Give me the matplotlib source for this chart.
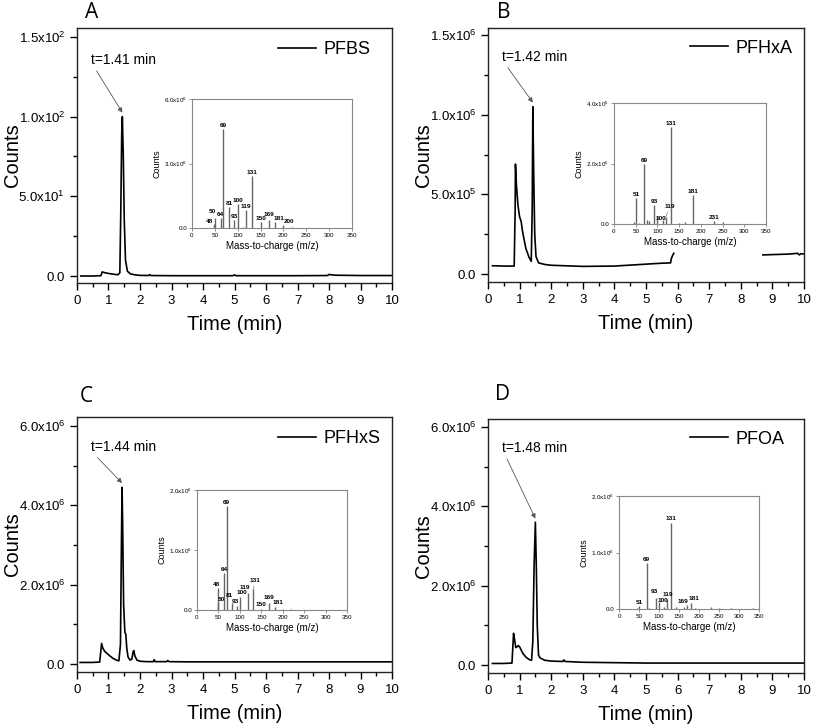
import matplotlib
matplotlib.use("Agg")
import matplotlib.pyplot as plt
import numpy as np
from matplotlib.ticker import MultipleLocator

plt.rcParams["font.family"] = ["Liberation Sans", "DejaVu Sans"]
plt.rcParams["mathtext.fontset"] = "custom"
plt.rcParams["mathtext.rm"] = "Liberation Sans"
plt.rcParams["mathtext.default"] = "regular"

nan = np.nan

# ---- chromatograms (time in min, counts) ----
time_a = [0.12, 0.5, 0.76, 0.80, 0.84, 0.9, 1.0, 1.1, 1.2, 1.3, 1.36, 1.39, 1.42, 1.44, 1.47,
          1.50, 1.54, 1.60, 1.70, 1.85, 2.0, 2.27, 2.30, 2.34, 3.0, 4.95, 5.0, 5.05, 7.0, 7.95,
          8.0, 8.05, 8.2, 9.0, 10.0]
counts_a = [0.0, 0.0, 0.2, 2.6, 2.3, 2.0, 1.6, 1.3, 1.0, 0.8, 2.0, 40.0, 90.0, 100.0, 75.0,
            35.0, 10.0, 3.0, 1.3, 0.7, 0.4, 0.3, 0.9, 0.3, 0.2, 0.2, 0.7, 0.2, 0.2, 0.3,
            1.0, 0.8, 0.5, 0.3, 0.3]

time_b = [0.14, 0.5, 0.83, 0.86, 0.87, 0.90, 0.95, 1.0, 1.05, 1.1, 1.2, 1.3, 1.37, 1.40, 1.42,
          1.45, 1.48, 1.52, 1.6, 1.8, 2.0, 3.0, 4.0, 5.0, 5.5, 5.78, 5.80, 5.85, 5.88, nan,
          8.7, 9.0, 9.5, 9.8, 9.85, 9.9, 10.0]
counts_b = [5.2e4, 5.0e4, 5.0e4, 4.0e5, 6.9e5, 5.6e5, 4.3e5, 3.6e5, 3.3e5, 2.6e5, 1.6e5, 1.05e5,
            8e4, 4e5, 1.05e6, 6e5, 2.5e5, 1.1e5, 7e4, 6e4, 5.5e4, 4.8e4, 5.0e4, 6.2e4, 6.8e4,
            7.0e4, 9.5e4, 1.2e5, 1.3e5, nan, 1.2e5, 1.22e5, 1.25e5, 1.3e5, 1.2e5, 1.28e5, 1.25e5]

time_c = [0.1, 0.5, 0.72, 0.76, 0.78, 0.82, 0.88, 0.95, 1.05, 1.15, 1.25, 1.33, 1.38, 1.41,
          1.43, 1.45, 1.48, 1.52, 1.55, 1.58, 1.62, 1.68, 1.74, 1.78, 1.80, 1.84, 1.90, 2.0,
          2.2, 2.42, 2.45, 2.48, 2.85, 2.88, 2.92, 3.5, 5.0, 7.0, 10.0]
counts_c = [4e4, 4e4, 5e4, 3.5e5, 5.2e5, 4.0e5, 3.2e5, 2.7e5, 2.0e5, 1.4e5, 1.0e5, 8e4, 5e5,
            3.0e6, 4.45e6, 3.5e6, 1.5e6, 8.0e5, 7.5e5, 4.0e5, 1.8e5, 1.0e5, 1.2e5, 3.0e5,
            3.4e5, 2.0e5, 1.0e5, 7e4, 6e4, 6e4, 1.1e5, 6e4, 6e4, 9e4, 6e4, 5.5e4, 5.5e4,
            5.5e4, 5.5e4]

time_d = [0.14, 0.5, 0.76, 0.79, 0.81, 0.84, 0.88, 0.92, 0.96, 1.0, 1.05, 1.1, 1.2, 1.3, 1.38,
          1.42, 1.46, 1.50, 1.53, 1.56, 1.60, 1.65, 1.8, 2.0, 2.37, 2.40, 2.44, 3.0, 4.0, 5.0,
          7.0, 10.0]
counts_d = [4e4, 4e4, 5e4, 5e5, 8.0e5, 6.5e5, 4.4e5, 4.6e5, 4.9e5, 4.6e5, 3.8e5, 3.0e5, 2.0e5,
            1.4e5, 1.2e5, 6e5, 2.5e6, 3.6e6, 2.5e6, 1.0e6, 2.5e5, 1.8e5, 1.2e5, 1.0e5, 9e4,
            1.3e5, 9e4, 7e4, 6e4, 5e4, 5e4, 5e4]

names = ["PFBS", "PFHxA", "PFHxS", "PFOA"]
panel_letters = ["A", "B", "C", "D"]
retention_times = [1.41, 1.42, 1.44, 1.48]

yticks_a = [0, 50, 100, 150]
yticklabels_a = ["0.0", "5.0x10$^1$", "1.0x10$^2$", "1.5x10$^2$"]
yticks_b = [0, 5e5, 1e6, 1.5e6]
yticklabels_b = ["0.0", "5.0x10$^5$", "1.0x10$^6$", "1.5x10$^6$"]
yticks_cd = [0, 2e6, 4e6, 6e6]
yticklabels_cd = ["0.0", "2.0x10$^6$", "4.0x10$^6$", "6.0x10$^6$"]

# ---- mass spectra (m/z, counts) ----
mz_a = [48, 50, 64, 69, 81, 93, 100, 112, 119, 131, 150, 169, 181, 200, 219, 231]
int_a = [0.2e6, 0.45e6, 0.47e6, 4.62e6, 0.99e6, 0.35e6, 1.13e6, 0.06e6, 0.83e6, 2.43e6,
         0.28e6, 0.39e6, 0.27e6, 0.14e6, 0.04e6, 0.02e6]
labels_a = [48, 50, 64, 69, 81, 93, 100, 119, 131, 150, 169, 181, 200]

mz_b = [45, 51, 57, 69, 75, 80, 93, 100, 113, 119, 131, 150, 163, 181, 231, 250]
int_b = [0.08e5, 0.87e5, 0.03e5, 1.98e5, 0.12e5, 0.1e5, 0.63e5, 0.27e5, 0.12e5, 0.22e5,
         3.21e5, 0.03e5, 0.07e5, 0.95e5, 0.1e5, 0.06e5]
labels_b = [51, 69, 93, 100, 119, 131, 181, 231]

mz_c = [48, 50, 64, 69, 81, 93, 100, 119, 131, 150, 169, 181, 200, 219]
int_c = [0.37e6, 0.12e6, 0.61e6, 1.73e6, 0.12e6, 0.07e6, 0.21e6, 0.29e6, 0.345e6, 0.02e6,
         0.11e6, 0.05e6, 0.02e6, 0.01e6]
labels_c = [48, 50, 64, 69, 81, 93, 100, 119, 131, 150, 169, 181]

mz_d = [45, 51, 69, 75, 93, 100, 113, 119, 131, 143, 163, 169, 181, 190, 231, 250, 280, 335]
int_d = [0.02e6, 0.05e6, 0.81e6, 0.02e6, 0.19e6, 0.12e6, 0.04e6, 0.17e6, 1.53e6, 0.03e6,
         0.04e6, 0.07e6, 0.1e6, 0.02e6, 0.04e6, 0.02e6, 0.02e6, 0.015e6]
labels_d = [51, 69, 93, 100, 119, 131, 169, 181]

inset_yticks_a = [0, 3e6, 6e6]
inset_yticklabels_a = ["0.0", "3.0x10$^6$", "6.0x10$^6$"]
inset_yticks_b = [0, 2e5, 4e5]
inset_yticklabels_b = ["0.0", "2.0x10$^5$", "4.0x10$^5$"]
inset_yticks_cd = [0, 1e6, 2e6]
inset_yticklabels_cd = ["0.0", "1.0x10$^6$", "2.0x10$^6$"]

# ---- layout ----
main_pos = [
    [0.0947, 0.6107, 0.3875, 0.3508],
    [0.6002, 0.6121, 0.3887, 0.3494],
    [0.0947, 0.0757, 0.3875, 0.3508],
    [0.6002, 0.0743, 0.3887, 0.3494],
]
inset_pos = [
    [0.236, 0.6864, 0.197, 0.1774],
    [0.7552, 0.6919, 0.187, 0.1664],
    [0.2423, 0.161, 0.1845, 0.165],
    [0.7614, 0.1623, 0.1722, 0.1554],
]
ylims = [(-4.4, 155.6), (-0.05e6, 1.544e6), (-0.2e6, 6.227e6), (-0.2e6, 6.2e6)]
letter_xy = [(0.105, 0.983), (0.611, 0.983), (0.098, 0.454), (0.609, 0.457)]
legend_anchor = [(0.638, 0.914), (0.639, 0.921), (0.638, 0.914), (0.639, 0.921)]
text_anchor = [(0.044, 0.875), (0.044, 0.886), (0.044, 0.882), (0.044, 0.886)]

# label offsets in points (layout only)
label_offsets = [
    {48: (-2.8, -0.3), 50: (-1.8, 2.8), 64: (-0.8, 0.5), 169: (0, 2.0), 181: (3, 0.8),
     200: (4, 0.8), 150: (0.3, 0.8)},
    {100: (2.5, -3.5), 119: (3, 6)},
    {48: (-1, 0.8), 50: (2, 0.8), 81: (-1.5, 3.5), 93: (-1, 1.5), 100: (1.5, 1.5),
     131: (1.5, 4.5), 119: (-2, 1.5), 150: (-0.5, 1.5), 169: (0, 2.5), 181: (2.5, 1.5)},
    {100: (3, -0.5), 169: (-2.5, 0.5), 181: (2, 1.5), 119: (1, 1.5), 93: (-1, 3)},
]
leader_labels = [set(), {119}, {131}, set()]

chromatograms = [(time_a, counts_a), (time_b, counts_b), (time_c, counts_c), (time_d, counts_d)]
ytick_sets = [(yticks_a, yticklabels_a), (yticks_b, yticklabels_b),
              (yticks_cd, yticklabels_cd), (yticks_cd, yticklabels_cd)]
spectra = [(mz_a, int_a, labels_a), (mz_b, int_b, labels_b),
           (mz_c, int_c, labels_c), (mz_d, int_d, labels_d)]
inset_ticks = [(inset_yticks_a, inset_yticklabels_a), (inset_yticks_b, inset_yticklabels_b),
               (inset_yticks_cd, inset_yticklabels_cd), (inset_yticks_cd, inset_yticklabels_cd)]

fig = plt.figure(figsize=(8.13, 7.27), dpi=100)

for i in range(4):
    ax = fig.add_axes(main_pos[i])
    t, c = chromatograms[i]
    ax.plot(t, c, color="black", lw=1.2, label=names[i])
    ax.set_xlim(0, 10)
    ax.set_ylim(*ylims[i])
    ax.set_xticks(range(0, 11))
    ax.xaxis.set_minor_locator(MultipleLocator(0.5))
    yt, ytl = ytick_sets[i]
    ax.set_yticks(yt)
    ax.set_yticklabels(ytl)
    ax.yaxis.set_minor_locator(MultipleLocator(yt[1] / 2))
    ax.tick_params(which="major", direction="out", length=5, width=1, labelsize=9.5,
                   top=False, right=False)
    ax.tick_params(which="minor", direction="out", length=3, width=1, top=False, right=False)
    for sp in ax.spines.values():
        sp.set_linewidth(1.0)
        sp.set_color("#222222")
    ax.set_xlabel("Time (min)", fontsize=14.5, labelpad=6)
    ax.set_ylabel("Counts", fontsize=14.5)
    ax.yaxis.set_label_coords(-0.173, 0.5)
    ax.legend(loc="center left", bbox_to_anchor=legend_anchor[i], frameon=False,
              fontsize=13, handlelength=2.1, handletextpad=0.4, borderpad=0, borderaxespad=0)

    # retention time annotation
    i_peak = int(np.nanargmax(c))
    ax.annotate(f"t={retention_times[i]:.2f} min", xy=(t[i_peak], c[i_peak] * 1.025),
                xytext=text_anchor[i], textcoords="axes fraction", fontsize=10,
                ha="left", va="center",
                arrowprops=dict(arrowstyle="-|>", color="#555555", lw=0.6,
                                mutation_scale=7, relpos=(0.05, 0.0), shrinkA=1, shrinkB=0))

    fig.text(*letter_xy[i], panel_letters[i], family=["Open Sans", "DejaVu Sans"],
             fontsize=15, ha="left", va="center")

    # mass spectrum inset
    ins = fig.add_axes(inset_pos[i])
    mz, inten, labs = spectra[i]
    ins.vlines(mz, 0, inten, color="#666666", lw=1.0)
    ins.set_xlim(0, 350)
    iyt, iytl = inset_ticks[i]
    ins.set_ylim(iyt[0], iyt[-1])
    ins.set_xticks(range(0, 351, 50))
    ins.set_yticks(iyt)
    ins.set_yticklabels(iytl)
    ins.tick_params(direction="out", length=2, width=0.5, labelsize=4.5, pad=1.5,
                    color="#666666", top=False, right=False)
    for sp in ins.spines.values():
        sp.set_linewidth(0.8)
        sp.set_color("#888888")
    ins.set_xlabel("Mass-to-charge (m/z)", fontsize=7, labelpad=2)
    ins.set_ylabel("Counts", fontsize=6.5, labelpad=2)
    for lab in labs:
        y = inten[mz.index(lab)]
        dx, dy = label_offsets[i].get(lab, (0, 0.8))
        if lab in leader_labels[i]:
            ins.annotate(str(lab), xy=(lab, y), xytext=(dx, dy), textcoords="offset points",
                         ha="center", va="bottom", fontsize=4.6, fontweight="bold",
                         arrowprops=dict(arrowstyle="-", color="#666666", lw=0.4,
                                         shrinkA=0, shrinkB=0))
        else:
            ins.annotate(str(lab), xy=(lab, y), xytext=(dx, dy), textcoords="offset points",
                         ha="center", va="bottom", fontsize=4.6, fontweight="bold")

fig.savefig("out.png", dpi=100)
